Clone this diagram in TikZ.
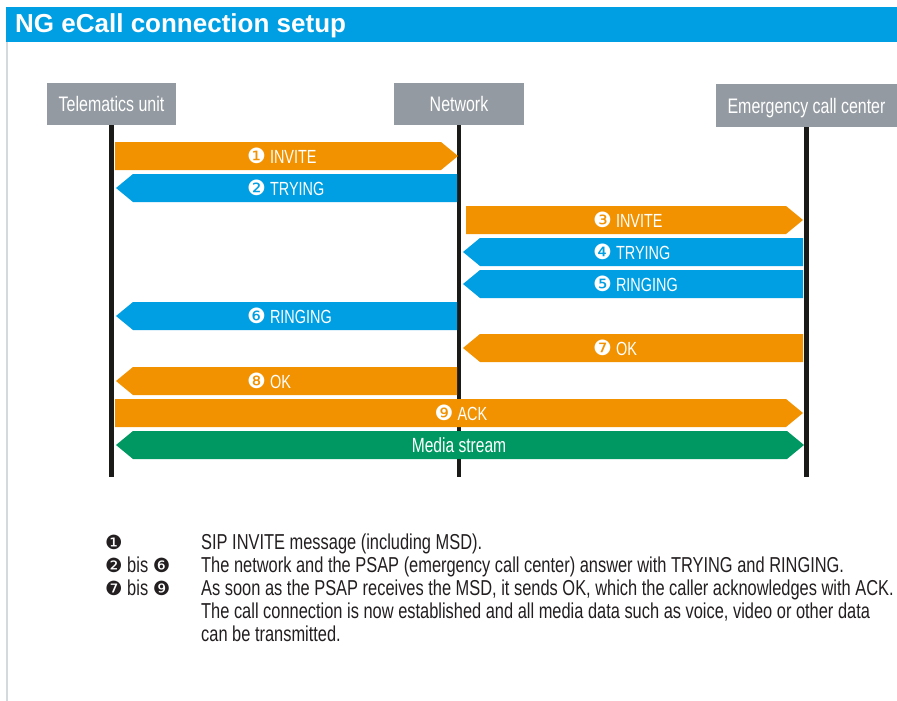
\documentclass[tikz,border=0pt]{standalone}
\usepackage{fontspec}
\setmainfont{Liberation Sans}
\newfontfamily\condfont{Liberation Sans}[FakeStretch=0.76]
\newfontfamily\dingfont{DejaVu Sans}
\definecolor{ecorange}{HTML}{F39200}
\definecolor{ecblue}{HTML}{009FE3}
\definecolor{ecgreen}{HTML}{009862}
\definecolor{ecgrey}{HTML}{939AA1}
\definecolor{ecline}{HTML}{1A1A18}
\definecolor{ectext}{HTML}{231F20}
\definecolor{ecborder}{HTML}{D4D9DE}
\newcommand{\cnum}[1]{{\dingfont\fontsize{21}{21}\selectfont #1}}
\newcommand{\cnumn}[1]{{\dingfont\fontsize{19.5}{19.5}\selectfont #1}}
\newcommand{\arrowR}[4]{\fill[#4] (#1,#3-14) -- (#2-17,#3-14) -- (#2,#3) -- (#2-17,#3+14) -- (#1,#3+14) -- cycle;}
\newcommand{\arrowL}[4]{\fill[#4] (#2,#3-14) -- (#1+17,#3-14) -- (#1,#3) -- (#1+17,#3+14) -- (#2,#3+14) -- cycle;}
\newcommand{\arrowB}[4]{\fill[#4] (#1,#3) -- (#1+17,#3-14) -- (#2-17,#3-14) -- (#2,#3) -- (#2-17,#3+14) -- (#1+17,#3+14) -- cycle;}
\begin{document}
\begin{tikzpicture}[x=1pt,y=-1pt,
  hdr/.style={fill=ecgrey, text=white, font=\condfont\fontsize{21}{21}\selectfont, inner sep=0pt, text height=15pt, text depth=0pt},
  life/.style={draw=ecline, line width=4.5pt},
  msg/.style={text=white, font=\condfont\fontsize{19}{19}\selectfont, inner sep=0pt, anchor=base west},
  msgc/.style={msg, anchor=base},
  note/.style={text=ectext, font=\condfont\fontsize{21.6}{21.6}\selectfont, inner sep=0pt, anchor=base west}]
\useasboundingbox (0,0) rectangle (897,701);
\fill[white] (0,0) rectangle (897,701);
% title bar and border
\fill[ecblue] (6,7) rectangle (897,42);
\draw[ecborder, line width=1.5pt] (6.75,42) -- (6.75,701);
\node[anchor=base west, inner sep=0pt, text=white, font=\bfseries\fontsize{26}{26}\selectfont] (title) at (15,33) {NG eCall connection setup};
% headers
\node[hdr, minimum width=129pt, minimum height=42pt] (tu) at (111.5,104) {Telematics unit};
\node[hdr, minimum width=130pt, minimum height=42pt] (net) at (459,104) {Network};
\node[hdr, minimum width=182pt, minimum height=43pt] (ecc) at (806.5,105.5) {Emergency call center};
\coordinate (tuend) at (111.5,477);
\coordinate (netend) at (459,477);
\coordinate (eccend) at (806.5,477);
\draw[life] (tu.south) -- (tuend);
\draw[life] (net.south) -- (netend);
\draw[life] (ecc.south) -- (eccend);
% messages
\arrowR{115}{458}{156}{ecorange}
\node[msg] (m1) at (247,163) {\cnum{❶} INVITE};
\arrowL{116}{457}{188}{ecblue}
\node[msg] (m2) at (247,195) {\cnum{❷} TRYING};
\arrowR{466}{803}{220}{ecorange}
\node[msg] (m3) at (593,227) {\cnum{❸} INVITE};
\arrowL{463}{803}{252}{ecblue}
\node[msg] (m4) at (593,259) {\cnum{❹} TRYING};
\arrowL{463}{803}{284}{ecblue}
\node[msg] (m5) at (593,291) {\cnum{❺} RINGING};
\arrowL{116}{457}{316}{ecblue}
\node[msg] (m6) at (247,323) {\cnum{❻} RINGING};
\arrowL{463}{803}{348}{ecorange}
\node[msg] (m7) at (593,355) {\cnum{❼} OK};
\arrowL{116}{457}{381}{ecorange}
\node[msg] (m8) at (247,388) {\cnum{❽} OK};
\arrowR{115}{803}{413}{ecorange}
\node[msgc] (m9) at (461,420) {\cnum{❾} ACK};
\arrowB{116}{804}{445}{ecgreen}
\node[msgc, font=\condfont\fontsize{20.5}{20.5}\selectfont] (m10) at (459,452) {Media stream};
% notes
\node[note] (n1) at (105,549) {\cnumn{❶}};
\node[note] (t1) at (201,549) {SIP INVITE message (including MSD).};
\node[note] (n2) at (105,572) {\cnumn{❷} bis \cnumn{❻}};
\node[note] (t2) at (201,572) {The network and the PSAP (emergency call center) answer with TRYING and RINGING.};
\node[note] (n3) at (105,595) {\cnumn{❼} bis \cnumn{❾}};
\node[note] (t3) at (201,595) {As soon as the PSAP receives the MSD, it sends OK, which the caller acknowledges with ACK.};
\node[note] (t4) at (201,618) {The call connection is now established and all media data such as voice, video or other data};
\node[note] (t5) at (201,641) {can be transmitted.};
\end{tikzpicture}
\end{document}
